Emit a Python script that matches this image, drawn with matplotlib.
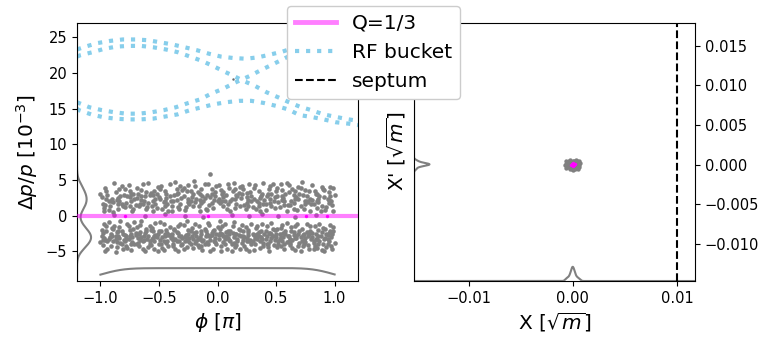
import numpy as np
import matplotlib
matplotlib.use("Agg")
import matplotlib.pyplot as plt
from matplotlib.lines import Line2D

# ---------------- data ----------------
# RF bucket dotted curves (phi [pi], dp/p [1e-3])
bucket_a_phi = [-1.2, -1.128, -1.023, -0.917, -0.81, -0.702, -0.597, -0.489, -0.385, -0.279, -0.177, -0.072, 0.03, 0.134, 0.243, 0.347, 0.453, 0.555, 0.7, 0.85, 1.0, 1.2]
bucket_a_dp = [23.3, 23.7, 24.2, 24.5, 24.7, 24.7, 24.6, 24.3, 24.0, 23.6, 23.2, 22.7, 22.3, 22.1, 22.0, 22.2, 22.6, 23.0, 23.8, 24.3, 24.6, 24.6]
bucket_b_phi = [-1.2, -1.17, -1.071, -0.966, -0.861, -0.759, -0.654, -0.546, -0.441, -0.336, -0.234, -0.134, -0.041, 0.058, 0.149, 0.22, 0.319, 0.419, 0.517, 0.611, 0.70, 0.80, 0.906, 1.01, 1.12, 1.2]
bucket_b_dp = [22.3, 22.5, 22.9, 23.4, 23.7, 23.8, 23.8, 23.6, 23.3, 22.9, 22.3, 21.7, 21.0, 20.2, 19.5, 18.9, 18.2, 17.3, 16.6, 15.9, 15.3, 14.8, 14.2, 13.85, 13.5, 13.3]
bucket_c_phi = [-1.2, -1.094, -0.989, -0.883, -0.779, -0.671, -0.563, -0.458, -0.356, -0.249, -0.149, -0.055, 0.049, 0.143, 0.277, 0.37, 0.47, 0.555, 0.7, 0.85, 1.0, 1.2]
bucket_c_dp = [15.9, 15.2, 14.8, 14.5, 14.3, 14.3, 14.5, 14.8, 15.2, 15.8, 16.3, 17.1, 17.8, 18.6, 19.6, 20.4, 21.2, 21.9, 23.1, 23.6, 23.8, 23.7]
bucket_d_phi = [-1.2, -1.185, -1.079, -0.974, -0.872, -0.768, -0.662, -0.552, -0.447, -0.342, -0.234, -0.134, -0.036, 0.072, 0.183, 0.288, 0.396, 0.498, 0.603, 0.70, 0.80, 0.906, 1.01, 1.12, 1.2]
bucket_d_dp = [15.0, 14.8, 14.2, 13.8, 13.6, 13.5, 13.5, 13.6, 13.9, 14.2, 14.8, 15.2, 15.6, 15.9, 16.1, 16.1, 15.8, 15.4, 14.9, 14.1, 13.85, 13.5, 13.1, 12.9, 12.7]
bucket_point = (0.134, 19.1)

# particles: upper band
upper_band = """
-0.99,2.6 -0.97,1.1 -0.95,3.4 -0.93,0.8 -0.91,2.1 -0.98,1.7 -0.96,3.9 -0.94,2.9 -0.92,1.4 -0.90,2.4 -1.00,3.1 -0.97,0.6 -0.93,2.0
-0.89,1.9 -0.87,3.3 -0.85,0.9 -0.83,2.7 -0.81,1.3 -0.88,4.6 -0.86,2.2 -0.84,3.7 -0.82,1.6 -0.80,2.9 -0.89,0.5 -0.85,2.5 -0.82,4.1
-0.79,1.2 -0.77,2.8 -0.75,3.5 -0.73,0.7 -0.71,2.3 -0.78,1.8 -0.76,4.3 -0.74,2.0 -0.72,3.1 -0.70,1.5 -0.79,3.8 -0.75,2.6 -0.72,1.0
-0.69,2.5 -0.67,1.3 -0.65,3.6 -0.63,2.1 -0.61,0.9 -0.68,3.0 -0.66,1.7 -0.64,4.4 -0.62,2.7 -0.60,1.2 -0.69,3.9 -0.65,2.2 -0.61,3.3
-0.59,1.8 -0.57,3.2 -0.55,0.6 -0.53,2.4 -0.51,4.0 -0.58,2.9 -0.56,1.4 -0.54,3.5 -0.52,1.1 -0.50,2.6 -0.59,4.6 -0.55,2.0 -0.52,3.0
-0.49,2.3 -0.47,0.9 -0.45,3.4 -0.43,1.6 -0.41,2.8 -0.48,4.2 -0.46,1.9 -0.44,3.0 -0.42,0.7 -0.40,2.1 -0.49,3.7 -0.45,1.3 -0.41,4.5
-0.39,1.4 -0.37,2.9 -0.35,3.8 -0.33,1.0 -0.31,2.5 -0.38,2.0 -0.36,4.7 -0.34,3.2 -0.32,1.7 -0.30,3.6 -0.39,0.6 -0.35,2.2 -0.32,4.1
-0.29,2.7 -0.27,1.2 -0.25,4.3 -0.23,2.0 -0.21,3.1 -0.28,0.8 -0.26,3.5 -0.24,1.6 -0.22,2.6 -0.20,4.8 -0.29,3.9 -0.25,2.3 -0.21,1.3
-0.19,1.9 -0.17,3.3 -0.15,0.7 -0.13,2.8 -0.11,4.4 -0.18,2.4 -0.16,1.4 -0.14,3.7 -0.12,2.1 -0.10,1.0 -0.19,4.1 -0.15,3.0 -0.11,2.5
-0.09,2.9 -0.07,1.5 -0.05,3.8 -0.03,2.2 -0.06,5.9 -0.08,4.5 -0.06,2.6 -0.04,1.1 -0.02,3.3 0.00,2.0 -0.09,0.8 -0.05,3.0 -0.01,4.2
0.01,2.4 0.03,3.6 0.05,1.3 0.07,2.9 0.09,4.5 0.02,1.8 0.04,3.1 0.06,2.1 0.08,0.9 0.10,3.9 0.01,4.3 0.05,2.6 0.09,1.6
0.11,2.0 0.13,3.4 0.15,1.1 0.17,2.7 0.19,4.0 0.12,2.3 0.14,4.6 0.16,1.7 0.18,3.2 0.20,2.5 0.11,0.7 0.15,3.8 0.19,1.4
0.21,3.0 0.23,1.5 0.25,2.6 0.27,4.4 0.29,2.0 0.22,3.7 0.24,0.9 0.26,2.2 0.28,3.3 0.30,1.2 0.21,4.1 0.25,1.8 0.29,2.8
0.31,2.4 0.33,1.0 0.35,3.5 0.37,2.8 0.39,1.6 0.32,4.3 0.34,2.0 0.36,0.6 0.38,3.0 0.40,2.2 0.31,3.9 0.35,1.3 0.39,4.6
0.41,1.7 0.43,3.1 0.45,2.3 0.47,4.5 0.49,1.1 0.42,2.7 0.44,3.8 0.46,1.4 0.48,2.0 0.50,3.4 0.41,0.8 0.45,4.1 0.49,2.6
0.51,2.8 0.53,1.2 0.55,3.6 0.57,2.1 0.59,0.7 0.52,1.9 0.54,4.4 0.56,2.5 0.58,3.1 0.60,1.5 0.51,3.9 0.55,2.2 0.59,4.6
0.61,3.3 0.63,2.0 0.65,1.0 0.67,2.6 0.69,4.0 0.62,1.5 0.64,3.7 0.66,2.3 0.68,0.8 0.70,3.0 0.61,4.3 0.65,1.8 0.69,2.4
0.71,1.3 0.73,2.9 0.75,3.6 0.77,1.9 0.79,2.4 0.72,4.7 0.74,0.9 0.76,2.7 0.78,3.4 0.80,1.6 0.71,3.9 0.75,2.1 0.79,0.6
0.81,2.2 0.83,3.5 0.85,1.1 0.87,2.8 0.89,4.0 0.82,1.7 0.84,3.1 0.86,2.4 0.88,0.7 0.90,3.7 0.81,4.3 0.85,2.0 0.89,1.4
0.91,2.6 0.93,1.2 0.95,3.3 0.97,2.0 0.99,3.9 0.92,0.8 0.94,2.3 0.96,4.0 0.98,1.5 1.00,2.9 0.91,3.6 0.95,1.8 0.99,0.6
-0.96,1.5 -0.84,2.0 -0.74,3.0 -0.64,1.6 -0.53,1.7 -0.44,2.5 -0.34,1.2 -0.23,3.4 -0.14,1.8 -0.02,2.7
0.04,2.0 0.16,2.9 0.26,1.4 0.36,2.5 0.46,3.0 0.57,1.5 0.66,3.4 0.76,2.1 0.86,1.9 0.96,2.7
-0.95,2.4 -0.85,1.6 -0.75,1.4 -0.65,2.8 -0.55,2.9 -0.45,2.0 -0.35,3.0 -0.25,1.9 -0.15,2.2 -0.05,1.8
0.05,3.3 0.15,2.3 0.25,3.2 0.35,1.8 0.45,1.8 0.55,2.8 0.65,2.9 0.75,1.7 0.85,3.0 0.95,2.2
"""
# particles: lower band
lower_band = """
-0.99,-2.9 -0.98,-4.1 -0.97,-1.2 -0.96,-3.4 -0.95,-2.2 -0.94,-4.6 -0.93,-0.9 -0.92,-3.0 -0.91,-2.6 -0.90,-1.7 -1.00,-3.7 -0.98,-2.4 -0.96,-4.9 -0.95,-1.5 -0.93,-3.2 -0.91,-4.3 -0.99,-2.0
-0.89,-3.6 -0.88,-1.4 -0.87,-2.8 -0.86,-4.4 -0.85,-2.1 -0.84,-3.1 -0.83,-0.8 -0.82,-4.0 -0.81,-2.5 -0.80,-3.4 -0.89,-1.9 -0.87,-5.1 -0.85,-2.9 -0.84,-1.6 -0.83,-3.8 -0.81,-4.7 -0.86,-2.3
-0.79,-2.7 -0.78,-4.2 -0.77,-1.1 -0.76,-3.3 -0.75,-2.0 -0.74,-4.8 -0.73,-3.0 -0.72,-1.8 -0.71,-3.9 -0.70,-2.4 -0.79,-3.5 -0.77,-4.5 -0.76,-1.5 -0.74,-2.6 -0.73,-3.7 -0.71,-0.9 -0.78,-2.9
-0.69,-1.6 -0.68,-3.1 -0.67,-4.3 -0.66,-2.3 -0.65,-0.8 -0.64,-3.6 -0.63,-2.8 -0.62,-4.9 -0.61,-1.9 -0.60,-3.2 -0.69,-4.0 -0.67,-2.6 -0.66,-1.3 -0.64,-4.6 -0.63,-3.4 -0.61,-2.1 -0.68,-3.8
-0.59,-2.9 -0.58,-1.4 -0.57,-4.1 -0.56,-3.3 -0.55,-2.2 -0.54,-4.7 -0.53,-1.0 -0.52,-3.0 -0.51,-2.5 -0.50,-3.9 -0.59,-4.4 -0.57,-2.0 -0.56,-1.7 -0.54,-3.6 -0.53,-2.7 -0.51,-5.0 -0.58,-3.5
-0.49,-3.4 -0.48,-2.1 -0.47,-4.5 -0.46,-1.2 -0.45,-2.9 -0.44,-3.8 -0.43,-2.4 -0.42,-4.2 -0.41,-1.6 -0.40,-3.1 -0.49,-0.9 -0.47,-3.0 -0.46,-4.8 -0.44,-2.0 -0.43,-3.5 -0.41,-2.7 -0.48,-4.0
-0.39,-2.6 -0.38,-4.3 -0.37,-1.8 -0.36,-3.2 -0.35,-2.3 -0.34,-4.9 -0.33,-3.6 -0.32,-1.1 -0.31,-2.9 -0.30,-3.9 -0.39,-3.0 -0.37,-2.0 -0.36,-4.6 -0.34,-1.5 -0.33,-2.8 -0.31,-4.1 -0.38,-3.4
-0.29,-1.3 -0.28,-3.5 -0.27,-2.7 -0.26,-4.4 -0.25,-2.0 -0.24,-3.1 -0.23,-4.0 -0.22,-1.7 -0.21,-3.3 -0.20,-2.4 -0.29,-4.7 -0.27,-2.9 -0.26,-0.8 -0.24,-3.7 -0.23,-2.2 -0.21,-4.5 -0.28,-3.0
-0.19,-3.8 -0.18,-2.3 -0.17,-4.1 -0.16,-1.5 -0.15,-3.0 -0.14,-2.6 -0.13,-4.8 -0.12,-3.4 -0.11,-1.9 -0.10,-2.8 -0.19,-1.1 -0.17,-3.2 -0.16,-4.4 -0.14,-2.1 -0.13,-3.6 -0.11,-4.0 -0.18,-2.9
-0.09,-2.5 -0.08,-4.0 -0.07,-1.3 -0.06,-3.4 -0.05,-2.7 -0.04,-4.6 -0.03,-2.0 -0.02,-3.1 -0.01,-3.9 0.00,-1.6 -0.09,-3.7 -0.07,-2.9 -0.06,-5.0 -0.04,-2.2 -0.03,-3.5 -0.01,-2.6 -0.08,-1.0
0.01,-3.3 0.02,-1.8 0.03,-4.2 0.04,-2.5 0.05,-3.7 0.06,-1.2 0.07,-2.9 0.08,-4.6 0.09,-2.1 0.10,-3.4 0.01,-2.7 0.03,-4.9 0.04,-1.5 0.06,-3.9 0.07,-2.3 0.09,-3.1 0.02,-0.8
0.11,-2.2 0.12,-3.9 0.13,-1.4 0.14,-3.0 0.15,-4.4 0.16,-2.6 0.17,-3.5 0.18,-1.9 0.19,-4.7 0.20,-2.8 0.11,-3.6 0.13,-2.4 0.14,-0.9 0.16,-4.1 0.17,-3.2 0.19,-2.0 0.12,-5.0
0.21,-3.8 0.22,-2.1 0.23,-4.3 0.24,-1.6 0.25,-3.1 0.26,-2.7 0.27,-4.9 0.28,-3.4 0.29,-1.1 0.30,-2.5 0.21,-1.3 0.23,-3.0 0.24,-4.6 0.26,-2.0 0.27,-3.6 0.29,-4.0 0.22,-2.9
0.31,-2.7 0.32,-4.0 0.33,-1.7 0.34,-3.3 0.35,-2.3 0.36,-4.5 0.37,-3.0 0.38,-1.2 0.39,-3.8 0.40,-2.6 0.31,-4.8 0.33,-2.9 0.34,-1.4 0.36,-3.5 0.37,-2.1 0.39,-4.2 0.32,-3.1
0.41,-3.2 0.42,-1.5 0.43,-4.4 0.44,-2.4 0.45,-3.6 0.46,-1.0 0.47,-2.8 0.48,-4.1 0.49,-2.0 0.50,-3.0 0.41,-2.2 0.43,-3.9 0.44,-4.9 0.46,-2.6 0.47,-1.8 0.49,-3.4 0.42,-2.9
0.51,-1.9 0.52,-3.5 0.53,-2.6 0.54,-4.2 0.55,-1.3 0.56,-3.0 0.57,-4.7 0.58,-2.2 0.59,-3.7 0.60,-2.9 0.51,-4.4 0.53,-3.3 0.54,-1.7 0.56,-2.4 0.57,-3.9 0.59,-1.0 0.52,-4.0
0.61,-2.8 0.62,-4.1 0.63,-1.6 0.64,-3.4 0.65,-2.3 0.66,-4.8 0.67,-3.1 0.68,-1.1 0.69,-2.6 0.70,-3.8 0.61,-3.6 0.63,-2.1 0.64,-4.5 0.66,-1.4 0.67,-2.9 0.69,-4.3 0.62,-3.2
0.71,-3.0 0.72,-1.8 0.73,-4.3 0.74,-2.5 0.75,-3.7 0.76,-1.2 0.77,-2.9 0.78,-4.6 0.79,-2.1 0.80,-3.3 0.71,-4.9 0.73,-2.7 0.74,-3.9 0.76,-2.3 0.77,-4.1 0.79,-1.5 0.72,-3.5
0.81,-2.4 0.82,-3.8 0.83,-1.4 0.84,-3.2 0.85,-4.5 0.86,-2.0 0.87,-3.5 0.88,-2.8 0.89,-4.8 0.90,-1.7 0.81,-3.0 0.83,-4.2 0.84,-2.6 0.86,-3.9 0.87,-1.1 0.89,-2.3 0.82,-4.6
0.91,-3.3 0.92,-1.9 0.93,-4.4 0.94,-2.7 0.95,-3.6 0.96,-1.3 0.97,-3.0 0.98,-4.7 0.99,-2.2 1.00,-3.8 0.91,-4.9 0.93,-2.5 0.94,-3.9 0.96,-2.1 0.97,-4.2 0.99,-1.6 0.92,-3.1
-0.97,-3.1 -0.87,-3.3 -0.75,-2.8 -0.65,-3.0 -0.55,-3.1 -0.45,-2.6 -0.35,-3.6 -0.25,-2.5 -0.15,-3.3 -0.05,-2.4
0.05,-2.8 0.15,-2.5 0.25,-3.5 0.35,-2.8 0.45,-2.4 0.55,-3.5 0.65,-2.7 0.75,-3.1 0.85,-3.3 0.95,-2.4
-0.94,-3.5 -0.90,-2.9 -0.86,-3.7 -0.82,-2.2 -0.78,-3.2 -0.74,-4.0 -0.70,-2.7 -0.66,-3.4 -0.62,-2.4 -0.58,-3.9
-0.54,-2.8 -0.50,-2.2 -0.46,-3.5 -0.42,-2.7 -0.38,-3.9 -0.34,-2.4 -0.30,-3.1 -0.26,-3.4 -0.22,-2.8 -0.18,-3.5
-0.14,-4.2 -0.10,-2.2 -0.06,-2.9 -0.02,-3.7 0.02,-2.4 0.06,-3.2 0.10,-2.6 0.14,-3.8 0.18,-2.7 0.22,-3.4
0.26,-2.3 0.30,-3.6 0.34,-2.5 0.38,-3.3 0.42,-4.0 0.46,-3.1 0.50,-2.5 0.54,-3.0 0.58,-2.6 0.62,-3.8
0.66,-3.1 0.70,-2.2 0.74,-3.4 0.78,-2.6 0.82,-3.5 0.86,-2.8 0.90,-4.0 0.94,-3.3 0.98,-2.6 -0.98,-3.4
"""
# particles near the resonance line
near_zero = "-0.88,0.1 -0.62,-0.1 -0.45,0.2 -0.28,0.0 -0.12,-0.2 0.12,0.1 0.27,-0.1 0.38,0.2 0.52,0.0 0.66,-0.2 0.84,0.1"
magenta_phi = [-0.787, -0.085, 0.755, 0.935]
magenta_dp = [0.0, 0.0, 0.0, 0.0]
q_line_dp = 0.0

# right panel: X, X' [sqrt(m)]
blob_x = [-0.0006, -0.0005, -0.0004, -0.0003, -0.0002, -0.0001, 0.0, 0.0001, 0.0002, 0.0003, 0.0004, 0.0005, 0.0006, 0.0007,
          -0.0007, -0.0003, 0.0003, -0.0001, 0.0002, -0.0005, 0.0005, -0.0002, 0.0, 0.0001, -0.0004, 0.0004, -0.0006, 0.0006,
          0.0, -0.0002, 0.0002, 0.0001, -0.0001, 0.0003, -0.0003, 0.0006, -0.0006, 0.0, 0.0004, -0.0004,
          0.0, 0.00005, -0.00005, 0.0001, -0.0001, 0.00015, -0.00015, 0.0002, -0.0002, 0.0, 0.00005, -0.00005, 0.0001, -0.0001, 0.0,
          0.00015, -0.00015, 0.0, 0.00005, -0.00005, 0.0001, -0.0001, 0.0, 0.0, 0.00005, -0.00005, 0.0001, -0.0001, 0.00025, -0.00025]
blob_xp = [0.0001, -0.0003, 0.0004, -0.0005, 0.0002, -0.0001, 0.0005, -0.0004, 0.0003, -0.0002, 0.0005, -0.0005, 0.0, 0.0002,
           -0.0001, 0.0006, 0.0006, -0.0006, -0.0006, 0.0003, 0.0003, -0.0003, -0.0002, 0.0001, -0.0002, -0.0001, -0.0004, -0.0003,
           0.0002, 0.0, 0.0, 0.0004, 0.0003, 0.0001, 0.0001, 0.0004, 0.0004, -0.0007, 0.0001, 0.0002,
           0.0, 0.0001, -0.0001, 0.00005, -0.00005, 0.0, 0.0001, -0.0001, 0.00005, 0.00015, -0.00015, 0.0, -0.0001, 0.0001, -0.0002,
           0.00015, -0.00005, 0.0002, 0.0, 0.00005, -0.00015, 0.0002, 0.00005, -0.00005, -0.0002, 0.00015, 0.0, 0.0, 0.0001, -0.0001]
core_x = [0.0, -0.0001, 0.0001, 0.0002, -0.0002, 0.0, 0.0]
core_xp = [0.0, 0.0001, -0.0001, 0.0001, -0.0001, 0.0002, -0.0002]
septum_x = 0.01


def parse_pairs(s):
    arr = np.array([p.split(",") for p in s.split()], dtype=float)
    return arr[:, 0], arr[:, 1]


def kde(vals, grid, factor=1.0):
    vals = np.asarray(vals, float)
    n = len(vals)
    bw = factor * vals.std(ddof=1) * n ** (-0.2)
    d = (grid[:, None] - vals[None, :]) / bw
    return np.exp(-0.5 * d * d).sum(1) / (n * bw * np.sqrt(2 * np.pi))


up_phi, up_dp = parse_pairs(upper_band)
lo_phi, lo_dp = parse_pairs(lower_band)
nz_phi, nz_dp = parse_pairs(near_zero)
phi = np.concatenate([up_phi, lo_phi, nz_phi, magenta_phi])
dp = np.concatenate([up_dp, lo_dp, nz_dp, magenta_dp])

# ---------------- figure ----------------
fig = plt.figure(figsize=(7.67, 3.45), dpi=100)
ax1 = fig.add_axes([0.1004, 0.1855, 0.3664, 0.7487])
ax2 = fig.add_axes([0.5398, 0.1855, 0.3664, 0.7487])

TICK = 10.5
LAB = 14.5

# left panel
xl1 = (-1.2, 1.2)
yl1 = (-9.15, 27.05)
ax1.scatter(np.concatenate([up_phi, lo_phi, nz_phi]), np.concatenate([up_dp, lo_dp, nz_dp]),
            s=11, color="grey", linewidths=0, zorder=2)
ax1.axhline(q_line_dp, color="magenta", alpha=0.5, lw=3, zorder=3)
ax1.scatter(magenta_phi, magenta_dp, s=6, color="magenta", linewidths=0, zorder=4)
for bp, bd in [(bucket_a_phi, bucket_a_dp), (bucket_b_phi, bucket_b_dp),
               (bucket_c_phi, bucket_c_dp), (bucket_d_phi, bucket_d_dp)]:
    ax1.plot(bp, bd, color="skyblue", ls=":", lw=3, zorder=2)
ax1.scatter([bucket_point[0]], [bucket_point[1]], s=3, color="dimgrey", linewidths=0, zorder=3)

gy = np.linspace(yl1[0], yl1[1], 400)
ky = kde(dp, gy)
ax1.plot(xl1[0] + 0.05 * (xl1[1] - xl1[0]) * ky / ky.max(), gy, color="grey", lw=1.5, zorder=1.5)
gx = np.linspace(phi.min(), phi.max(), 300)
kx = kde(phi, gx)
ax1.plot(gx, yl1[0] + 0.05 * (yl1[1] - yl1[0]) * kx / kx.max(), color="grey", lw=1.5, zorder=1.5)

ax1.set_xlim(*xl1)
ax1.set_ylim(*yl1)
ax1.set_xticks([-1.0, -0.5, 0.0, 0.5, 1.0])
ax1.set_yticks([-5, 0, 5, 10, 15, 20, 25])
ax1.tick_params(labelsize=TICK)
ax1.set_xlabel(r"$\phi$ [$\pi$]", fontsize=LAB)
ax1.set_ylabel(r"$\Delta p/p$ [$10^{-3}$]", fontsize=LAB)

# right panel
xl2 = (-0.01523, 0.01174)
yl2 = (-0.01467, 0.01789)
ax2.scatter(blob_x, blob_xp, s=10, color="grey", linewidths=0, zorder=2)
ax2.scatter(core_x, core_xp, s=6, color="magenta", linewidths=0, zorder=3)
ax2.axvline(septum_x, color="black", ls="--", lw=1.5)
gx2 = np.linspace(xl2[0], xl2[1], 2000)
kx2 = kde(blob_x, gx2)
ax2.plot(gx2, yl2[0] + 0.055 * (yl2[1] - yl2[0]) * kx2 / kx2.max(), color="grey", lw=1.5, zorder=1.5)
gy2 = np.linspace(yl2[0], yl2[1], 2000)
ky2 = kde(blob_xp, gy2)
ax2.plot(xl2[0] + 0.055 * (xl2[1] - xl2[0]) * ky2 / ky2.max(), gy2, color="grey", lw=1.5, zorder=1.5)
ax2.set_xlim(*xl2)
ax2.set_ylim(*yl2)
ax2.set_xticks([-0.01, 0.0, 0.01])
ax2.set_yticks([-0.010, -0.005, 0.0, 0.005, 0.010, 0.015])
ax2.set_xticklabels(["\u22120.01", "0.00", "0.01"])
ax2.set_yticklabels(["\u22120.010", "\u22120.005", "0.000", "0.005", "0.010", "0.015"])
ax2.yaxis.tick_right()
ax2.tick_params(labelsize=TICK)
ax2.set_xlabel(r"X [$\sqrt{m}$]", fontsize=LAB)
ax2.set_ylabel(r"X' [$\sqrt{m}$]", fontsize=LAB)

handles = [Line2D([], [], color="magenta", alpha=0.5, lw=3.5),
           Line2D([], [], color="skyblue", ls=":", lw=3),
           Line2D([], [], color="black", ls="--", lw=1.5)]
fig.legend(handles, ["Q=1/3", "RF bucket", "septum"], loc="upper center",
           bbox_to_anchor=(373.5 / 767, 1 - 5.7 / 345), borderaxespad=0, fontsize=LAB,
           framealpha=1.0)

fig.savefig("out.png", dpi=100)
